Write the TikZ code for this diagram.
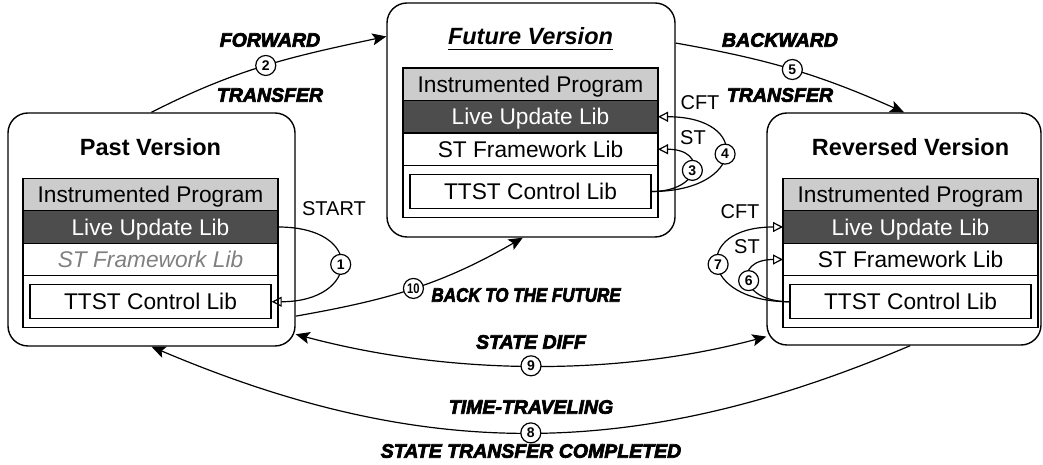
\documentclass[tikz,border=0pt]{standalone}
\usepackage{fontspec}
\setmainfont{Liberation Sans}
\usetikzlibrary{positioning,arrows.meta}

\definecolor{progfill}{RGB}{204,204,204}
\definecolor{livefill}{RGB}{77,77,77}
\definecolor{offtext}{RGB}{128,128,128}

\newcommand{\rowfont}{\fontsize{22.7}{26}\selectfont}
\newcommand{\vtitlefont}{\fontsize{23.5}{27}\selectfont\bfseries}
\newcommand{\callfont}{\fontsize{20}{24}\selectfont}
\newcommand{\tagfont}{\fontsize{19.5}{23}\selectfont\bfseries\itshape}
\newcommand{\numfont}{\fontsize{14}{16}\selectfont\bfseries}
\newcommand{\heavy}[1]{\special{pdf:literal direct 2 Tr 0.7 w}#1\special{pdf:literal direct 0 Tr}}
\newsavebox{\ulbox}
\newcommand{\ulined}[1]{\sbox{\ulbox}{#1}\rlap{\rule[-5.5pt]{\wd\ulbox}{1.8pt}}\usebox{\ulbox}}

\tikzset{
  version/.style={draw, fill=white, rounded corners=20pt, line width=1.4pt, inner sep=0pt},
  libbox/.style={draw, line width=1.4pt, minimum width=255pt, minimum height=32.5pt,
    inner sep=0pt, outer sep=0pt, text height=16.3pt, text depth=0pt, font=\rowfont},
  prog/.style={libbox, fill=progfill},
  live/.style={libbox, fill=livefill, text=white},
  stfw/.style={libbox, fill=white},
  ctrlrow/.style={libbox, fill=white, minimum height=52pt},
  ctrl/.style={draw, line width=1.4pt, minimum width=241pt, minimum height=34pt,
    inner sep=0pt, text height=16.3pt, text depth=0pt, font=\rowfont},
  vtitle/.style={anchor=base, font=\vtitlefont},
  stepnum/.style={circle, draw, fill=white, line width=1.2pt, inner sep=0pt,
    minimum size=20pt, font=\numfont},
  tagtext/.style={font=\tagfont},
  calltext/.style={font=\callfont},
  callarrow/.style={line width=1.2pt, -{Triangle[open,length=10pt,width=10pt]}},
  flow/.style={line width=1.2pt, -{Stealth[length=14pt,width=12pt,inset=3pt]}},
  twoway/.style={line width=1.2pt,
    {Stealth[length=14pt,width=12pt,inset=3pt]}-{Stealth[length=14pt,width=12pt,inset=3pt]}}
}

\begin{document}
\begin{tikzpicture}[x=1pt,y=1pt]
  \useasboundingbox (0,0) rectangle (1043,465);
  % versions
  \node[version, minimum width=287pt, minimum height=233pt] (past) at (151.5,235.5) {};
  \node[version, minimum width=288pt, minimum height=234pt] (fut) at (531,345) {};
  \node[version, minimum width=274pt, minimum height=232pt] (rev) at (904,236) {};
  \node[vtitle] (ptitle) at (150.5,309.5) {Past Version};
  \node[vtitle] (ftitle) at (530.5,420) {\ulined{\itshape Future Version}};
  \node[vtitle] (rtitle) at (910.5,309.5) {Reversed Version};
  % past stack
  \node[prog] (pprog) at (150.5,270.5) {Instrumented Program};
  \node[live, below=0pt of pprog] (plive) {Live Update Lib};
  \node[stfw, below=0pt of plive, text=offtext, font=\rowfont\itshape] (pstfw) {ST Framework Lib};
  \node[ctrlrow, below=0pt of pstfw] (pcrow) {};
  \node[ctrl] (pctl) at (pcrow) {TTST Control Lib};
  % future stack
  \node[prog] (fprog) at (530.5,380.75) {Instrumented Program};
  \node[live, below=0pt of fprog] (flive) {Live Update Lib};
  \node[stfw, below=0pt of flive] (fstfw) {ST Framework Lib};
  \node[ctrlrow, below=0pt of fstfw] (fcrow) {};
  \node[ctrl] (fctl) at (fcrow) {TTST Control Lib};
  % reversed stack
  \node[prog] (rprog) at (910.5,270.5) {Instrumented Program};
  \node[live, below=0pt of rprog] (rlive) {Live Update Lib};
  \node[stfw, below=0pt of rlive] (rstfw) {ST Framework Lib};
  \node[ctrlrow, below=0pt of rstfw] (rcrow) {};
  \node[ctrl] (rctl) at (rcrow) {TTST Control Lib};
  % calls inside a version
  \draw[callarrow] (plive.east) to[out=0,in=0,looseness=3] node[stepnum] (n1) {1} (pctl.east);
  \draw[callarrow] (fctl.east) to[out=0,in=0,looseness=3] node[stepnum] (n3) {3} (fstfw.east);
  \draw[callarrow] (fctl.east) to[out=0,in=0,looseness=3.2] node[stepnum] (n4) {4} (flive.east);
  \draw[callarrow] (rctl.west) to[out=180,in=180,looseness=3] node[stepnum] (n6) {6} (rstfw.west);
  \draw[callarrow] (rctl.west) to[out=180,in=180,looseness=3.1] node[stepnum] (n7) {7} (rlive.west);
  \node[calltext] (start) at (334,256) {START};
  \node[calltext] (fcft) at (700,362) {CFT};
  \node[calltext] (fst) at (693,327) {ST};
  \node[calltext] (rcft) at (740,253) {CFT};
  \node[calltext] (rst) at (747,218) {ST};
  % transfers between versions
  \draw[flow] (past.north) to[out=27,in=192] node[stepnum] (n2) {2} (fut.150);
  \draw[flow] (fut.28) to[out=-10,in=156] node[stepnum] (n5) {5} (rev.north);
  \draw[flow] (past.-31) to[out=10,in=-150] node[stepnum] (n10) {\scalebox{0.8}[1]{10}} (fut.-94);
  \draw[twoway] (past.-36) to[out=-15,in=-165,looseness=0.85] node[stepnum] (n9) {9} (rev.218);
  \draw[flow] (rev.-87) to[out=-157,in=-23] node[stepnum] (n8) {8} (past.south);
  \node[tagtext] (fwd) at (270,425) {\heavy{FORWARD}};
  \node[tagtext] (fwdxfer) at (270,370) {\heavy{TRANSFER}};
  \node[tagtext] (bwd) at (780,425) {\heavy{BACKWARD}};
  \node[tagtext] (bwdxfer) at (780,370) {\heavy{TRANSFER}};
  \node[tagtext, anchor=west] (btf) at (428,170) {\scalebox{0.87}[1]{\heavy{BACK TO THE FUTURE}}};
  \node[tagtext] (diff) at (531,123) {\heavy{STATE DIFF}};
  \node[tagtext] (ttr) at (531,58) {\heavy{TIME-TRAVELING}};
  \node[tagtext] (done) at (531,14) {\heavy{STATE TRANSFER COMPLETED}};
\end{tikzpicture}
\end{document}
